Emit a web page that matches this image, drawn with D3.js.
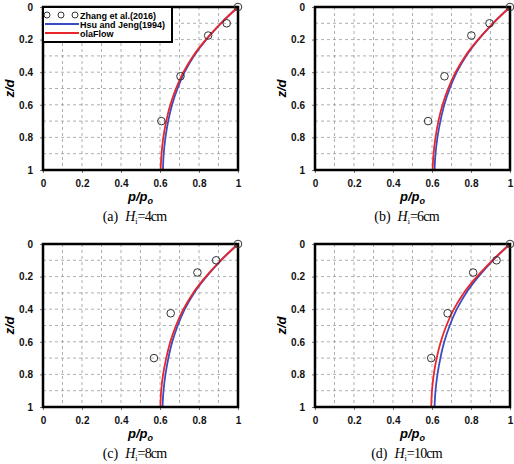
<!DOCTYPE html>
<html>
<head>
<meta charset="utf-8">
<script src="https://cdn.jsdelivr.net/npm/d3@7"></script>
<style>
  body { margin: 0; background: #fff; }
  svg { display: block; }
</style>
</head>
<body>
<svg width="514" height="464"></svg>
<script>
// depth levels used for the two model curves
const zLevels = [0, 0.1, 0.2, 0.3, 0.4, 0.5, 0.6, 0.7, 0.8, 0.9, 1.0]

// Zhang et al. (2016) measurements
const zhangZ = [0, 0.1, 0.175, 0.425, 0.7]
const zhangA = [1.0, 0.942, 0.847, 0.705, 0.607]
const zhangB = [1.0, 0.895, 0.802, 0.664, 0.580]
const zhangC = [1.0, 0.888, 0.792, 0.655, 0.569]
const zhangD = [1.0, 0.931, 0.811, 0.680, 0.596]

// Hsu and Jeng (1994)
const hsuA = [1.0, 0.913, 0.837, 0.774, 0.726, 0.690, 0.662, 0.642, 0.628, 0.619, 0.615]
const hsuB = [1.0, 0.913, 0.838, 0.775, 0.727, 0.691, 0.663, 0.643, 0.628, 0.618, 0.613]
const hsuC = [1.0, 0.913, 0.838, 0.775, 0.727, 0.691, 0.663, 0.643, 0.628, 0.618, 0.613]
const hsuD = [1.0, 0.913, 0.838, 0.775, 0.727, 0.691, 0.663, 0.643, 0.628, 0.618, 0.613]

// olaFlow
const olaA = [1.0, 0.912, 0.835, 0.770, 0.720, 0.682, 0.653, 0.632, 0.617, 0.608, 0.603]
const olaB = [1.0, 0.913, 0.836, 0.771, 0.721, 0.683, 0.654, 0.633, 0.618, 0.608, 0.603]
const olaC = [1.0, 0.912, 0.835, 0.770, 0.720, 0.682, 0.653, 0.632, 0.616, 0.606, 0.602]
const olaD = [1.0, 0.910, 0.830, 0.763, 0.712, 0.674, 0.645, 0.624, 0.609, 0.600, 0.596]

const panelLetters = ['(a)', '(b)', '(c)', '(d)']
const panelHeights = ['=4cm', '=6cm', '=8cm', '=10cm']
const tickValues = [0, 0.2, 0.4, 0.6, 0.8, 1]
const tickLabels = ['0', '0.2', '0.4', '0.6', '0.8', '1']
const legendLabels = ['Zhang et al.(2016)', 'Hsu and Jeng(1994)', 'olaFlow']

const zhangAll = [zhangA, zhangB, zhangC, zhangD]
const hsuAll = [hsuA, hsuB, hsuC, hsuD]
const olaAll = [olaA, olaB, olaC, olaD]

const BLUE = '#3b4cc0'
const RED = '#e8262c'

const svg = d3.select('svg')
const W = 195, H = 163
const origins = [[43, 7], [315, 7], [43, 244], [315, 244]]

const x = d3.scaleLinear().domain([0, 1]).range([0, W])
const y = d3.scaleLinear().domain([0, 1]).range([0, H])
const gridSteps = d3.range(1, 10).map(i => i / 10)

const line = d3.line()
  .x(d => x(d[0]))
  .y(d => y(d[1]))
  .curve(d3.curveCatmullRom)

origins.forEach((o, i) => {
  const g = svg.append('g').attr('transform', `translate(${o[0]},${o[1]})`)

  // dashed grid
  g.append('g').selectAll('line.v')
    .data(gridSteps).enter().append('line')
    .attr('x1', d => x(d)).attr('x2', d => x(d))
    .attr('y1', 0).attr('y2', H)
    .attr('stroke', '#9a9a9a').attr('stroke-dasharray', '3,3').attr('stroke-width', 0.8)
  g.append('g').selectAll('line.h')
    .data(gridSteps).enter().append('line')
    .attr('y1', d => y(d)).attr('y2', d => y(d))
    .attr('x1', 0).attr('x2', W)
    .attr('stroke', '#9a9a9a').attr('stroke-dasharray', '3,3').attr('stroke-width', 0.8)

  // axes
  const yAxis = d3.axisLeft(y).tickValues(tickValues).tickFormat((d, k) => tickLabels[k])
    .tickSize(3).tickPadding(7)
  const xAxis = d3.axisBottom(x).tickValues(tickValues).tickFormat((d, k) => tickLabels[k])
    .tickSize(3).tickPadding(7)
  const ya = g.append('g').call(yAxis)
  const xa = g.append('g').attr('transform', `translate(0,${H})`).call(xAxis)
  ;[ya, xa].forEach(a => {
    a.select('.domain').remove()
    a.selectAll('.tick line').attr('stroke', '#777')
    a.selectAll('.tick text')
      .attr('font-family', 'Liberation Sans, Arial, sans-serif')
      .attr('font-weight', 'bold')
      .attr('font-size', 10)
      .attr('fill', '#111')
  })

  // curves
  const hsu = zLevels.map((z, k) => [hsuAll[i][k], z])
  const ola = zLevels.map((z, k) => [olaAll[i][k], z])
  g.append('path').attr('d', line(hsu)).attr('fill', 'none')
    .attr('stroke', BLUE).attr('stroke-width', 1.8)
  g.append('path').attr('d', line(ola)).attr('fill', 'none')
    .attr('stroke', RED).attr('stroke-width', 1.8)

  // frame
  g.append('rect').attr('width', W).attr('height', H)
    .attr('fill', 'none').attr('stroke', '#000').attr('stroke-width', 2.5)

  // measured points
  g.append('g').selectAll('circle')
    .data(zhangZ.map((z, k) => [zhangAll[i][k], z]))
    .enter().append('circle')
    .attr('cx', d => x(d[0])).attr('cy', d => y(d[1])).attr('r', 3.8)
    .attr('fill', 'none').attr('stroke', '#333').attr('stroke-width', 1)

  // axis titles
  const xl = g.append('text')
    .attr('x', W / 2).attr('y', H + 31)
    .attr('text-anchor', 'middle')
    .attr('font-family', 'Liberation Sans, Arial, sans-serif')
    .attr('font-weight', 'bold').attr('font-style', 'italic').attr('font-size', 13)
  xl.append('tspan').text('p/p')
  xl.append('tspan').attr('font-size', 9).attr('dy', 3).text('o')

  g.append('text')
    .attr('transform', `translate(-29,${H / 2}) rotate(-90)`)
    .attr('text-anchor', 'middle')
    .attr('font-family', 'Liberation Sans, Arial, sans-serif')
    .attr('font-weight', 'bold').attr('font-style', 'italic').attr('font-size', 13)
    .text('z/d')

  // caption
  const cap = g.append('text')
    .attr('x', W / 2 - 6).attr('y', H + 51)
    .attr('text-anchor', 'middle')
    .attr('font-family', 'Liberation Serif, Times New Roman, serif')
    .attr('font-size', 14)
  cap.append('tspan').text(panelLetters[i] + '\u00a0 ')
  cap.append('tspan').attr('font-style', 'italic').text('H')
  cap.append('tspan').attr('font-size', 8).attr('dy', 3).text('i')
  cap.append('tspan').attr('dy', -3).attr('letter-spacing', -0.8).text(panelHeights[i])

  // legend in first panel
  if (i === 0) {
    const lg = g.append('g')
    lg.append('rect').attr('x', 0).attr('y', 0).attr('width', 129).attr('height', 35)
      .attr('fill', '#fff').attr('stroke', '#000').attr('stroke-width', 2)
    lg.selectAll('circle').data([4, 18, 32]).enter().append('circle')
      .attr('cx', d => d).attr('cy', 8).attr('r', 3)
      .attr('fill', 'none').attr('stroke', '#333').attr('stroke-width', 1)
    ;[BLUE, RED].forEach((c, k) => {
      lg.append('line').attr('x1', 2).attr('x2', 36)
        .attr('y1', 17 + k * 9).attr('y2', 17 + k * 9)
        .attr('stroke', c).attr('stroke-width', 1.8)
    })
    lg.selectAll('text').data(legendLabels).enter().append('text')
      .attr('x', 37).attr('y', (d, k) => 11.5 + k * 9)
      .attr('font-family', 'Liberation Sans, Arial, sans-serif')
      .attr('font-weight', 'bold').attr('font-size', 9)
      .text(d => d)
  }
})
</script>
</body>
</html>
